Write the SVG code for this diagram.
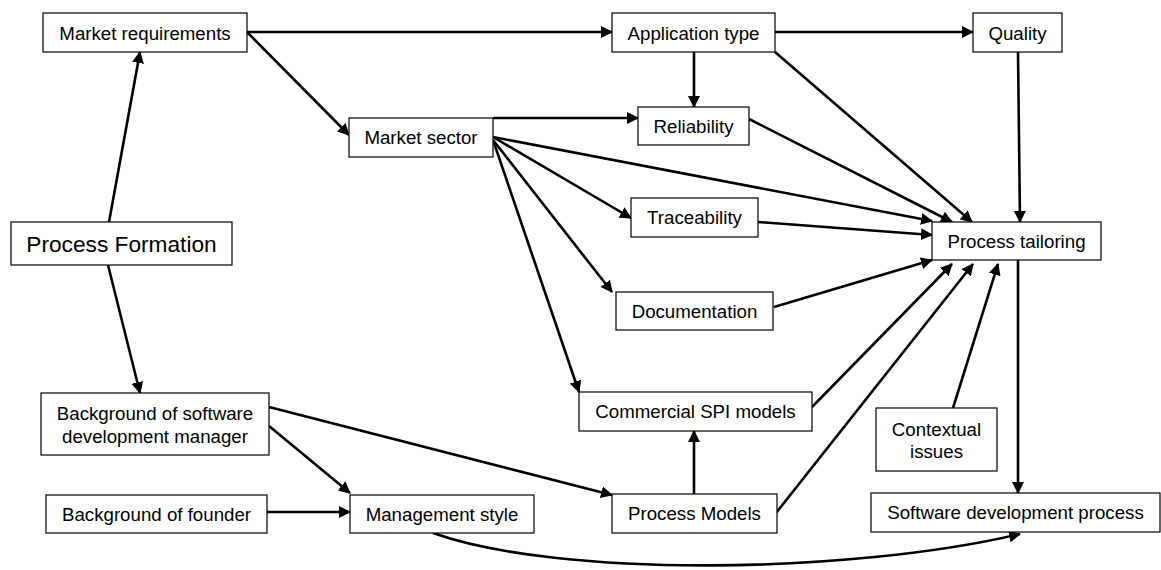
<svg xmlns="http://www.w3.org/2000/svg" width="1161" height="570" viewBox="0 0 1161 570">
<style>
.n rect{fill:#fff;stroke:#000;stroke-width:1.2}
.n text{font-family:"Liberation Sans",Arial,sans-serif;font-size:18.7px;fill:#000;text-anchor:middle}
.c path{fill:none;stroke:#000;stroke-width:2.6;marker-end:url(#ah)}
</style>
<defs>
<marker id="ah" markerUnits="userSpaceOnUse" markerWidth="13" markerHeight="13" refX="11" refY="6" orient="auto" viewBox="0 0 13 12">
<path d="M0,0 L12,6 L0,12 z" fill="#000"/>
</marker>
</defs>
<rect width="1161" height="570" fill="#fff"/>
<g class="c" id="connectors">
<path d="M247,32 L612,32"/>
<path d="M247,32 L349,135"/>
<path d="M109,222 L140,52"/>
<path d="M108,265 L140,393"/>
<path d="M269,407 L612,495"/>
<path d="M269,426 L350,493"/>
<path d="M267,512 L350,512"/>
<path d="M433,533 C560,578 850,574 1020,534"/>
<path d="M694,52 L694,107"/>
<path d="M775,32 L973,32"/>
<path d="M775,52 L972,222"/>
<path d="M1018,52 L1020,222"/>
<path d="M493,118 L638,118"/>
<path d="M749,119 L952,222"/>
<path d="M493,137 L932,221"/>
<path d="M758,222 L932,235"/>
<path d="M774,307 L932,260"/>
<path d="M493,137 L631,218"/>
<path d="M493,140 L612,292"/>
<path d="M493,140 L579,392"/>
<path d="M812,407 L952,264"/>
<path d="M776,513 L973,264"/>
<path d="M953,408 L998,264"/>
<path d="M1018,260 L1018,493"/>
<path d="M694,494 L694,431"/>
</g>
<g class="n" id="market-requirements"><rect x="43" y="13" width="204" height="39"/><text x="145" y="39.5">Market requirements</text></g>
<g class="n" id="application-type"><rect x="612" y="13" width="163" height="39"/><text x="693.5" y="39.5">Application type</text></g>
<g class="n" id="quality"><rect x="973" y="13" width="89" height="39"/><text x="1017.5" y="39.5">Quality</text></g>
<g class="n" id="market-sector"><rect x="349" y="118" width="144" height="39"/><text x="421" y="144">Market sector</text></g>
<g class="n" id="reliability"><rect x="638" y="107" width="111" height="38"/><text x="693.5" y="133">Reliability</text></g>
<g class="n" id="process-tailoring"><rect x="932" y="222" width="169" height="38"/><text x="1016.5" y="248">Process tailoring</text></g>
<g class="n" id="process-formation"><rect x="11" y="222" width="221" height="43"/><text x="121.5" y="251.5" style="font-size:22.7px">Process Formation</text></g>
<g class="n" id="traceability"><rect x="631" y="198" width="127" height="39"/><text x="694.5" y="224">Traceability</text></g>
<g class="n" id="documentation"><rect x="616" y="292" width="157" height="38"/><text x="694.5" y="318">Documentation</text></g>
<g class="n" id="commercial-spi-models"><rect x="579" y="392" width="233" height="39"/><text x="695.5" y="418">Commercial SPI models</text></g>
<g class="n" id="background-sdm"><rect x="41" y="393" width="228" height="62"/><text x="155" y="420">Background of software</text><text x="155" y="443">development manager</text></g>
<g class="n" id="background-founder"><rect x="46" y="495" width="221" height="38"/><text x="156.5" y="521">Background of founder</text></g>
<g class="n" id="management-style"><rect x="350" y="495" width="184" height="38"/><text x="442" y="521">Management style</text></g>
<g class="n" id="process-models"><rect x="612" y="494" width="165" height="39"/><text x="694.5" y="520">Process Models</text></g>
<g class="n" id="contextual-issues"><rect x="876" y="408" width="121" height="63"/><text x="936.5" y="436">Contextual</text><text x="936.5" y="458">issues</text></g>
<g class="n" id="software-development-process"><rect x="871" y="493" width="289" height="39"/><text x="1015.5" y="519">Software development process</text></g>
</svg>
